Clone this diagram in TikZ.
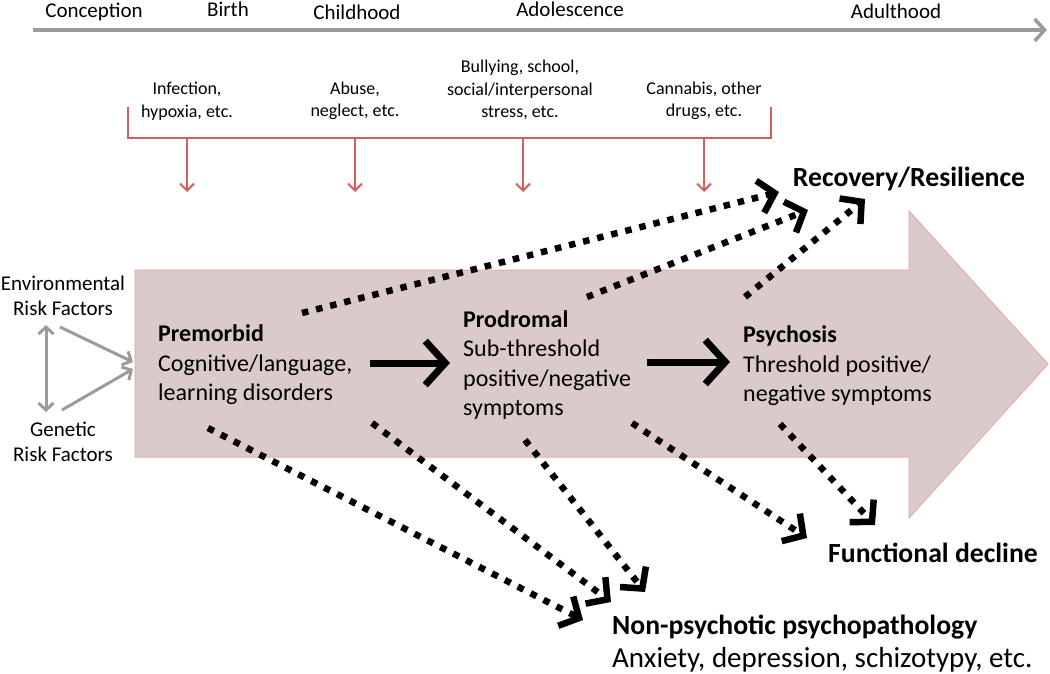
\documentclass[tikz,border=0pt]{standalone}
\usepackage{fontspec}
\setmainfont{Carlito}
\usetikzlibrary{arrows.meta}
\definecolor{bodyfill}{RGB}{219,202,202}
\definecolor{bodyline}{RGB}{232,172,172}
\definecolor{redline}{RGB}{208,96,92}
\definecolor{greyline}{RGB}{155,155,155}
\tikzset{
  phase/.style={font=\fontsize{21}{24}\selectfont, inner sep=0pt},
  risk/.style={font=\fontsize{18}{22.5}\selectfont, align=center, inner sep=0pt},
  sidetext/.style={font=\fontsize{21}{24.5}\selectfont, align=center, inner sep=0pt},
  stagetext/.style={font=\fontsize{24}{29.5}\selectfont, align=left, anchor=west, inner sep=0pt},
  outcome/.style={font=\fontsize{27.7}{30}\selectfont\bfseries, inner sep=0pt},
  redarrow/.style={redline, line width=2pt, -{Straight Barb[length=7pt,width=14pt]}},
  greyarrow/.style={greyline, line width=3pt, -{Straight Barb[length=7pt,width=15pt]}},
  dotarrow/.style={line width=6.5pt, dash pattern=on 6.5pt off 8pt, -{Straight Barb[length=15pt,width=33pt]}},
  solidarrow/.style={line width=7pt, -{Straight Barb[length=20pt,width=44pt]}}
}
\begin{document}
\begin{tikzpicture}[x=1pt,y=-1pt]
\useasboundingbox (0,0) rectangle (1050,674);
% big arrow
\draw[fill=bodyfill, draw=bodyline, line width=1pt]
  (135,270) -- (909,270) -- (909,211) -- (1048,364) -- (909,518) -- (909,457) -- (135,457) -- cycle;
% timeline
\coordinate (tl0) at (33,30);
\coordinate (tl1) at (1047,30);
\draw[greyline, line width=3.5pt, -{Straight Barb[length=10pt,width=22pt]}] (tl0) -- (tl1);
\node[phase] (conc) at (94,12) {Conception};
\node[phase] (birth) at (228,9) {Birth};
\node[phase] (child) at (357,12) {Childhood};
\node[phase] (adol) at (570,9) {Adolescence};
\node[phase] (adult) at (896,11) {Adulthood};
% risk factors
\node[risk] (inf) at (187,101) {Infection,\\hypoxia, etc.};
\node[risk] (abu) at (355,101) {Abuse,\\neglect, etc.};
\node[risk] (bul) at (520,90) {Bullying, school,\\social/interpersonal\\stress, etc.};
\node[risk] (can) at (704,101) {Cannabis, other\\drugs, etc.};
% bracket
\coordinate (bl) at (128,107);
\coordinate (br) at (771,107);
\draw[redline, line width=2pt] (bl) |- (br |- 0,138) -- (br);
\foreach \x/\n in {187/a,355/b,523/c,704/d}{
  \coordinate (rs\n) at (\x,138);
  \coordinate (re\n) at (\x,192);
  \draw[redarrow] (rs\n) -- (re\n);
}
% side texts
\node[sidetext] (env) at (63,296) {Environmental\\Risk Factors};
\node[sidetext] (gen) at (63,442) {Genetic\\Risk Factors};
\coordinate (v0) at (46,325);
\coordinate (v1) at (46,412);
\draw[greyline, line width=3pt, {Straight Barb[length=7pt,width=15pt]}-{Straight Barb[length=7pt,width=15pt]}] (v0) -- (v1);
\coordinate (ga0) at (60,327);
\coordinate (ga1) at (133,362);
\coordinate (gb0) at (62,410);
\coordinate (gb1) at (133,369);
\draw[greyarrow] (ga0) -- (ga1);
\draw[greyarrow] (gb0) -- (gb1);
% stages
\node[stagetext] (pre) at (158,365) {\textbf{Premorbid}\\Cognitive/language,\\learning disorders};
\node[stagetext] (pro) at (463,365) {\textbf{Prodromal}\\Sub-threshold\\positive/negative\\symptoms};
\node[stagetext] (psy) at (743,366) {\textbf{Psychosis}\\Threshold positive/\\negative symptoms};
\coordinate (s1a) at (370,363);
\coordinate (s1b) at (450,363);
\coordinate (s2a) at (647,362);
\coordinate (s2b) at (730,362);
\draw[solidarrow] (s1a) -- (s1b);
\draw[solidarrow] (s2a) -- (s2b);
% outcomes
\node[outcome] (rec) at (909,179) {Recovery/Resilience};
\node[outcome] (fun) at (933,553) {Functional decline};
\node[outcome, anchor=west] (non) at (612,627) {Non-psychotic psychopathology};
\node[font=\fontsize{29}{31}\selectfont, anchor=west, inner sep=0pt] (anx) at (612,660) {Anxiety, depression, schizotypy, etc.};
% dotted arrows
\coordinate (d1a) at (302,313); \coordinate (d1b) at (779,192);
\coordinate (d2a) at (587,297); \coordinate (d2b) at (808,210);
\coordinate (d3a) at (745,297); \coordinate (d3b) at (865,199);
\coordinate (d4a) at (208,428); \coordinate (d4b) at (583,620);
\coordinate (d5a) at (372,423); \coordinate (d5b) at (611,602);
\coordinate (d6a) at (525,440); \coordinate (d6b) at (645,592);
\coordinate (d7a) at (632,423); \coordinate (d7b) at (807,538);
\coordinate (d8a) at (780,424); \coordinate (d8b) at (875,525);
\foreach \i in {1,...,8}{ \draw[dotarrow] (d\i a) -- (d\i b); }
\end{tikzpicture}
\end{document}
